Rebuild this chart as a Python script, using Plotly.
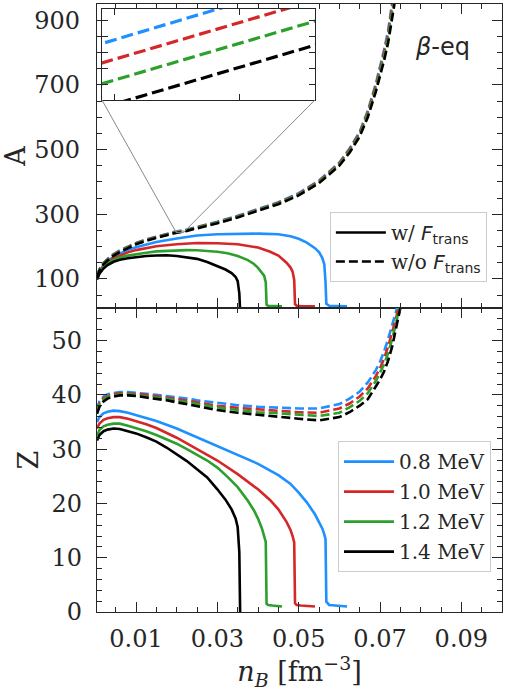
import plotly.graph_objects as go

# ---------------- data ----------------
temps = ["0.8 MeV", "1.0 MeV", "1.2 MeV", "1.4 MeV"]
colors = ["#1E90FF", "#D62728", "#2CA02C", "#000000"]

# w/o F_trans (dashed) - common density grid
n_dash = [0.0004, 0.001, 0.002, 0.003, 0.004, 0.006, 0.008, 0.010, 0.0125, 0.015,
          0.0175, 0.0195, 0.0225, 0.025, 0.030, 0.035, 0.040, 0.045, 0.050, 0.055,
          0.060, 0.0625, 0.065, 0.067, 0.069, 0.070, 0.071, 0.072, 0.073, 0.074, 0.075]
A_dash_08 = [110, 130, 150, 163, 173, 188, 200, 211, 222, 231, 239, 245.6, 252.6, 260.5, 277, 295,
             315, 337, 365, 404, 460, 503, 555, 620, 705, 753, 808, 868, 945, 1035, 1130]
A_dash_10 = [109, 129, 149, 162, 172, 187, 199, 210, 221, 230, 238, 244.4, 251.3, 259, 275.5, 293.5,
             313.5, 335.5, 363, 402, 457.5, 500, 551, 615, 699, 746, 800, 858, 934, 1022, 1117]
A_dash_12 = [107, 127, 147, 160, 170, 185, 197.5, 208.5, 219.5, 228.5, 236.5, 243.1, 250.0, 257.5, 274, 292,
             312, 333.5, 361, 399, 454, 495, 546, 608, 690, 736, 788, 845, 918, 1005, 1100]
A_dash_14 = [105, 125, 145, 158, 168, 183, 196, 207, 218, 227, 235, 241.6, 248.5, 256, 272, 290,
             310, 331, 358, 396, 450, 490, 540, 600, 680, 725, 775, 830, 900, 985, 1080]
Z_dash_08 = [37.3, 38.8, 39.7, 40.1, 40.3, 40.5, 40.5, 40.4, 40.2, 40.0, 39.8, 39.6, 39.3, 39.0, 38.5, 38.1,
             37.8, 37.6, 37.5, 37.5, 38.3, 39.3, 40.6, 42.3, 44.6, 46.1, 48.0, 50.3, 53.0, 55.5, 59.0]
Z_dash_10 = [37.0, 38.5, 39.4, 39.8, 40.1, 40.3, 40.3, 40.2, 40.0, 39.8, 39.5, 39.3, 38.9, 38.6, 38.0, 37.6,
             37.3, 37.0, 36.8, 36.7, 37.5, 38.4, 39.7, 41.2, 43.5, 44.9, 46.7, 48.9, 51.6, 54.3, 58.0]
Z_dash_12 = [36.8, 38.2, 39.1, 39.6, 39.8, 40.1, 40.1, 40.0, 39.7, 39.5, 39.3, 39.0, 38.6, 38.3, 37.7, 37.2,
             36.8, 36.6, 36.3, 36.1, 36.7, 37.7, 38.9, 40.3, 42.6, 44.0, 45.6, 47.7, 50.3, 53.4, 57.1]
Z_dash_14 = [36.5, 37.8, 38.8, 39.3, 39.6, 39.9, 39.9, 39.8, 39.5, 39.3, 39.0, 38.7, 38.3, 37.9, 37.2, 36.7,
             36.3, 36.0, 35.6, 35.3, 35.9, 36.8, 38.0, 39.2, 41.5, 42.8, 44.3, 46.3, 48.9, 52.2, 56.0]

# w/ F_trans (solid)
n_sol_08 = [0.0004, 0.001, 0.002, 0.003, 0.0045, 0.006, 0.008, 0.010, 0.0125, 0.015, 0.020, 0.025, 0.030,
            0.035, 0.040, 0.045, 0.048, 0.050, 0.052, 0.054, 0.055, 0.0558, 0.0563, 0.0566, 0.0568,
            0.0575, 0.059, 0.0619]
A_sol_08 = [101, 122, 143, 156, 168, 178, 190, 198, 207, 214, 225, 234, 238, 240, 240, 238, 232, 224, 212,
            195, 183, 165, 145, 90, 23, 17, 16, 15]
Z_sol_08 = [35.0, 35.9, 36.6, 36.9, 37.1, 37.0, 36.7, 36.3, 35.8, 35.2, 33.8, 32.2, 30.6, 29.0, 27.3, 25.2,
            23.6, 22.0, 20.2, 18.0, 16.7, 15.4, 14.3, 13.4, 1.9, 1.3, 1.2, 1.0]

n_sol_10 = [0.0004, 0.001, 0.002, 0.003, 0.0045, 0.006, 0.008, 0.010, 0.0125, 0.015, 0.020, 0.025, 0.030,
            0.035, 0.040, 0.043, 0.045, 0.047, 0.048, 0.0485, 0.0489, 0.0491, 0.0495, 0.0505, 0.054]
A_sol_10 = [100, 120, 140, 152, 164, 172, 182, 189, 196, 201, 207, 211, 210, 207, 197, 184, 172, 150, 135,
            122, 97, 22, 17, 16, 15]
Z_sol_10 = [33.8, 34.7, 35.4, 35.7, 35.9, 35.9, 35.6, 35.2, 34.6, 33.9, 32.1, 30.0, 27.9, 25.4, 22.6, 20.6,
            18.9, 16.6, 15.1, 14.0, 12.8, 1.6, 1.3, 1.2, 1.0]

n_sol_12 = [0.0004, 0.001, 0.002, 0.003, 0.0045, 0.006, 0.008, 0.010, 0.0125, 0.015, 0.0175, 0.020, 0.0225,
            0.025, 0.0275, 0.030, 0.0325, 0.035, 0.0375, 0.039, 0.040, 0.041, 0.0415, 0.0419, 0.0421,
            0.0425, 0.0435, 0.0459]
A_sol_12 = [99, 118, 136, 148, 159, 166, 172, 177, 181, 185, 187, 188.5, 189, 188.5, 187, 184, 179, 171,
            158, 146, 134, 120, 110, 90, 20, 16.5, 16, 15]
Z_sol_12 = [32.5, 33.5, 34.2, 34.5, 34.7, 34.7, 34.3, 33.9, 33.3, 32.6, 31.8, 31.0, 30.0, 29.0, 27.9, 26.6,
            24.9, 23.0, 20.5, 18.7, 17.2, 15.3, 14.1, 12.9, 1.5, 1.3, 1.2, 1.0]

n_sol_14 = [0.0004, 0.001, 0.002, 0.003, 0.0045, 0.006, 0.008, 0.010, 0.0125, 0.015, 0.0175, 0.020, 0.0225,
            0.025, 0.0275, 0.030, 0.032, 0.0335, 0.0345, 0.035, 0.0354, 0.0356]
A_sol_14 = [98, 116, 132, 143, 153, 159, 164, 168, 171, 172.5, 173, 171, 167, 162, 152, 140, 129, 118, 106,
            93, 55, 0]
Z_sol_14 = [31.6, 32.6, 33.3, 33.6, 33.8, 33.7, 33.3, 32.9, 32.2, 31.4, 30.3, 29.0, 27.8, 26.3, 24.8, 22.6,
            20.7, 18.9, 17.2, 15.6, 11.0, 0]

A_dash = [A_dash_08, A_dash_10, A_dash_12, A_dash_14]
Z_dash = [Z_dash_08, Z_dash_10, Z_dash_12, Z_dash_14]
n_sol = [n_sol_08, n_sol_10, n_sol_12, n_sol_14]
A_sol = [A_sol_08, A_sol_10, A_sol_12, A_sol_14]
Z_sol = [Z_sol_08, Z_sol_10, Z_sol_12, Z_sol_14]

# axis ranges
x_range = [0.0004, 0.1]
A_range = [10, 950]
Z_range = [0, 56]
inset_x = [0.0199, 0.0216]
inset_y = [243, 248.7]

SERIF = "DejaVu Serif"
SANS = "DejaVu Sans"
AX = "#262626"
LW = 2.6

fig = go.Figure()

for i in range(4):
    # top panel
    fig.add_trace(go.Scatter(x=n_dash, y=A_dash[i], mode="lines", xaxis="x", yaxis="y",
                             line=dict(color=colors[i], width=LW, dash="9px,4px"), showlegend=False))
    fig.add_trace(go.Scatter(x=n_sol[i], y=A_sol[i], mode="lines", xaxis="x", yaxis="y",
                             line=dict(color=colors[i], width=LW), showlegend=False))
    # bottom panel
    fig.add_trace(go.Scatter(x=n_dash, y=Z_dash[i], mode="lines", xaxis="x2", yaxis="y2",
                             line=dict(color=colors[i], width=LW, dash="9px,4px"), showlegend=False))
    fig.add_trace(go.Scatter(x=n_sol[i], y=Z_sol[i], mode="lines", xaxis="x2", yaxis="y2",
                             line=dict(color=colors[i], width=LW), name=temps[i],
                             legend="legend2", legendgroup=temps[i], showlegend=True))
    # inset
    fig.add_trace(go.Scatter(x=n_dash, y=A_dash[i], mode="lines", xaxis="x3", yaxis="y3",
                             line=dict(color=colors[i], width=3.2, dash="12px,5px"), showlegend=False))

# style legend entries
fig.add_trace(go.Scatter(x=[None], y=[None], mode="lines", xaxis="x", yaxis="y",
                         line=dict(color="black", width=LW), legend="legend", legendgroup="a",
                         name="w/ <span style='font-family:DejaVu Sans'><i>F</i><sub>trans</sub></span>"))
fig.add_trace(go.Scatter(x=[None], y=[None], mode="lines", xaxis="x", yaxis="y",
                         line=dict(color="black", width=LW, dash="9px,4px"), legend="legend", legendgroup="b",
                         name="w/o <span style='font-family:DejaVu Sans'><i>F</i><sub>trans</sub></span>"))

tickfont = dict(family=SERIF, size=24, color=AX)
common = dict(showline=True, linecolor=AX, linewidth=1.3, mirror="allticks", ticks="inside",
              tickcolor=AX, tickwidth=1.3, ticklen=10, showgrid=False, zeroline=False,
              tickfont=tickfont)

fig.update_layout(
    width=505, height=691, autosize=False,
    margin=dict(l=97, r=3, t=4, b=79),
    plot_bgcolor="white", paper_bgcolor="white",
    xaxis=dict(domain=[0, 1], anchor="y", range=x_range, tick0=0.01, dtick=0.02,
               showticklabels=False,
               minor=dict(dtick=0.005, tick0=0, ticks="inside", ticklen=5, tickcolor=AX, tickwidth=1.1),
               **common),
    yaxis=dict(domain=[0.5, 1], anchor="x", range=A_range, tick0=100, dtick=200,
               minor=dict(dtick=50, tick0=0, ticks="inside", ticklen=5, tickcolor=AX, tickwidth=1.1),
               ticklabelstandoff=11,
               title=dict(text="A", font=dict(family=SERIF, size=27, color=AX), standoff=5),
               **common),
    xaxis2=dict(domain=[0, 1], anchor="y2", range=x_range, tick0=0.01, dtick=0.02, matches="x",
                minor=dict(dtick=0.005, tick0=0, ticks="inside", ticklen=5, tickcolor=AX, tickwidth=1.1),
                ticklabelstandoff=5,
                title=dict(text="<i>n</i><sub><i>B</i></sub> [fm<sup>−3</sup>]",
                           font=dict(family=SERIF, size=27, color=AX), standoff=4),
                **common),
    yaxis2=dict(domain=[0, 0.5], anchor="x2", range=Z_range, tick0=0, dtick=10,
                minor=dict(dtick=2, tick0=0, ticks="inside", ticklen=5, tickcolor=AX, tickwidth=1.1),
                ticklabelstandoff=9,
                title=dict(text="Z", font=dict(family=SERIF, size=27, color=AX), standoff=5),
                **common),
    xaxis3=dict(domain=[0.0123, 0.538], anchor="y3", range=inset_x, dtick=0.001, tick0=0,
                showticklabels=False, showline=True, linecolor=AX, linewidth=1.3, mirror="allticks",
                ticks="inside", ticklen=6, tickcolor=AX, tickwidth=1.1, showgrid=False, zeroline=False),
    yaxis3=dict(domain=[0.842, 0.992], anchor="x3", range=inset_y, dtick=1, tick0=0,
                showticklabels=False, showline=True, linecolor=AX, linewidth=1.3, mirror="allticks",
                ticks="inside", ticklen=6, tickcolor=AX, tickwidth=1.1, showgrid=False, zeroline=False),
    legend=dict(x=0.575, y=0.658, xanchor="left", yanchor="top", itemwidth=50,
                bgcolor="rgba(255,255,255,0.85)", bordercolor="#cccccc", borderwidth=1,
                font=dict(family=SERIF, size=20, color=AX), tracegroupgap=0,
                traceorder="grouped"),
    legend2=dict(x=0.595, y=0.281, xanchor="left", yanchor="top", itemwidth=50,
                 bgcolor="rgba(255,255,255,0.85)", bordercolor="#cccccc", borderwidth=1,
                 font=dict(family=SERIF, size=20, color=AX), tracegroupgap=1,
                 traceorder="grouped"),
    annotations=[dict(text="<i>β</i>-eq", x=0.854, y=0.930, xref="paper", yref="paper",
                      xanchor="center", yanchor="middle",
                      showarrow=False, font=dict(family=SANS, size=24, color=AX))],
)

# zoom indicator and connector lines
def to_paper(xv, yv):
    px = (xv - x_range[0]) / (x_range[1] - x_range[0])
    py = 0.5 + 0.5 * (yv - A_range[0]) / (A_range[1] - A_range[0])
    return px, py

fig.add_shape(type="rect", xref="x", yref="y", x0=inset_x[0], x1=inset_x[1], y0=inset_y[0], y1=inset_y[1],
              line=dict(color="#888888", width=1))
ll = to_paper(inset_x[0], inset_y[0])
lr = to_paper(inset_x[1], inset_y[0])
fig.add_shape(type="line", xref="paper", yref="paper", x0=0.0123, y0=0.842, x1=ll[0], y1=ll[1],
              line=dict(color="#888888", width=1))
fig.add_shape(type="line", xref="paper", yref="paper", x0=0.538, y0=0.842, x1=lr[0], y1=lr[1],
              line=dict(color="#888888", width=1))

fig.write_html("out.html")
